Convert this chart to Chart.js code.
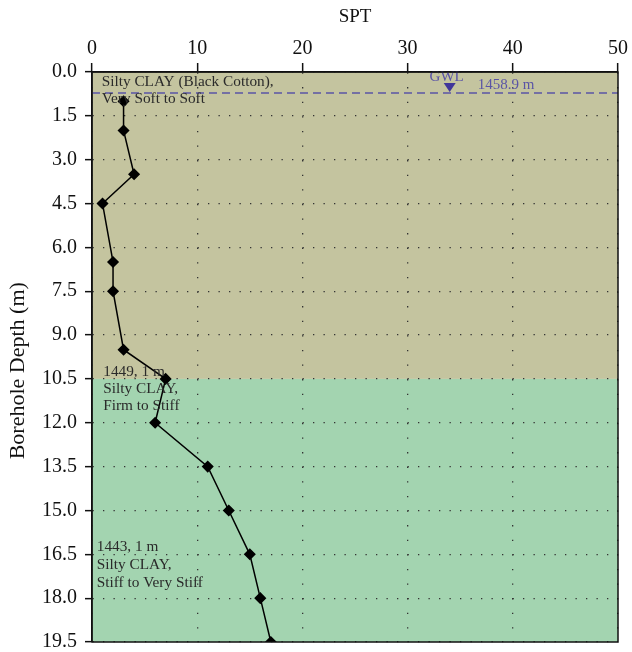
<!DOCTYPE html>
<html>
<head>
<meta charset="utf-8">
<script src="https://cdn.jsdelivr.net/npm/chart.js@4.4.1/dist/chart.umd.min.js"></script>
<style>
  html, body { margin: 0; padding: 0; background: #fff; }
  #wrap { width: 632px; height: 652px; }
</style>
</head>
<body>
<div id="wrap"><canvas id="sptChart" width="632" height="652"></canvas></div>
<script>
const spt = [3, 3, 4, 1, 2, 2, 3, 7, 6, 11, 13, 15, 16, 17];
const depth = [1.0, 2.0, 3.5, 4.5, 6.5, 7.5, 9.5, 10.5, 12.0, 13.5, 15.0, 16.5, 18.0, 19.5];

// soil layers (depth range in m)
const layerTop = [0, 10.5];
const layerBottom = [10.5, 19.5];
const layerColor = ['#c4c49f', '#a3d4b0'];

// layer labels, anchored at (SPT, depth) of the first line
const labelX = [0.92, 1.07, 0.45];
const labelY = [0.33, 10.25, 16.24];
const labelLines = [
    ['Silty CLAY (Black Cotton),', 'Very Soft to Soft'],
    ['1449, 1 m', 'Silty CLAY,', 'Firm to Stiff'],
    ['1443, 1 m', 'Silty CLAY,', 'Stiff to Very Stiff']
];
const labelGap = [17.6, 17, 18];

const gwlDepth = 0.72;
const gwlSpt = 34;
const gwlText = '1458.9 m';

const serif = "'Liberation Serif', 'DejaVu Serif', serif";

const soilPlugin = {
    id: 'soil',
    beforeDraw(chart) {
        const ctx = chart.ctx;
        const a = chart.chartArea;
        const y = chart.scales.y;
        ctx.save();
        for (let i = 0; i < layerTop.length; i++) {
            const t = y.getPixelForValue(layerTop[i]);
            const b = y.getPixelForValue(layerBottom[i]);
            ctx.fillStyle = layerColor[i];
            ctx.fillRect(a.left, t, a.right - a.left, b - t);
        }
        ctx.restore();
    },
    afterDatasetsDraw(chart) {
        const ctx = chart.ctx;
        const a = chart.chartArea;
        const x = chart.scales.x;
        const y = chart.scales.y;
        ctx.save();

        // GWL dashed line
        const gy = y.getPixelForValue(gwlDepth);
        ctx.strokeStyle = '#5a54a6';
        ctx.lineWidth = 1.5;
        ctx.setLineDash([8, 5]);
        ctx.beginPath();
        ctx.moveTo(a.left, gy);
        ctx.lineTo(a.right, gy);
        ctx.stroke();
        ctx.setLineDash([]);

        // GWL marker
        const gx = x.getPixelForValue(gwlSpt);
        ctx.fillStyle = '#40369a';
        ctx.beginPath();
        ctx.moveTo(gx - 6, gy - 10);
        ctx.lineTo(gx + 6, gy - 10);
        ctx.lineTo(gx, gy - 1);
        ctx.closePath();
        ctx.fill();

        ctx.fillStyle = '#5a54a6';
        ctx.font = '15px ' + serif;
        ctx.textBaseline = 'middle';
        ctx.textAlign = 'center';
        ctx.fillText('GWL', gx - 3, gy - 16);
        ctx.textAlign = 'left';
        ctx.fillText(gwlText, gx + 28, gy - 8);

        // layer labels
        ctx.fillStyle = '#2a2a2a';
        ctx.font = '15.3px ' + serif;
        ctx.textAlign = 'left';
        ctx.textBaseline = 'middle';
        for (let i = 0; i < labelLines.length; i++) {
            const px = x.getPixelForValue(labelX[i]);
            const py = y.getPixelForValue(labelY[i]);
            labelLines[i].forEach((line, k) => {
                ctx.fillText(line, px, py + k * labelGap[i]);
            });
        }

        // frame
        ctx.strokeStyle = '#111';
        ctx.lineWidth = 1.5;
        ctx.strokeRect(a.left, a.top, a.right - a.left, a.bottom - a.top);
        ctx.restore();
    }
};

const points = spt.map((v, i) => ({ x: v, y: depth[i] }));

new Chart(document.getElementById('sptChart'), {
    type: 'scatter',
    data: {
        datasets: [{
            data: points,
            showLine: true,
            borderColor: '#000',
            borderWidth: 1.5,
            backgroundColor: '#000',
            pointStyle: 'rectRot',
            pointRadius: 5,
            pointHoverRadius: 5
        }]
    },
    options: {
        responsive: false,
        animation: false,
        events: [],
        layout: { padding: { top: 0, right: 14, bottom: 10, left: 0 } },
        plugins: {
            legend: { display: false },
            tooltip: { enabled: false }
        },
        scales: {
            x: {
                type: 'linear',
                position: 'top',
                min: 0,
                max: 50,
                afterFit(scale) { scale.height = 72; },
                ticks: {
                    stepSize: 10,
                    color: '#111',
                    padding: 2,
                    font: { family: serif, size: 20 }
                },
                grid: {
                    color: '#333',
                    lineWidth: 1.3,
                    tickLength: 9,
                    tickColor: '#111',
                    tickBorderDash: [],
                    tickWidth: 1.5
                },
                border: { display: true, color: '#111', width: 1.5, dash: [1.3, 13.3] },
                title: {
                    display: true,
                    text: 'SPT',
                    color: '#111',
                    font: { family: serif, size: 19 },
                    padding: { top: 6, bottom: 0 }
                }
            },
            y: {
                type: 'linear',
                reverse: true,
                min: 0,
                max: 19.5,
                afterFit(scale) {
                    scale.width = 92;
                    scale.paddingTop = 0;
                    scale.paddingBottom = 0;
                },
                ticks: {
                    stepSize: 1.5,
                    color: '#111',
                    padding: 8,
                    font: { family: serif, size: 20 },
                    callback: v => v.toFixed(1)
                },
                grid: {
                    color: '#333',
                    lineWidth: 1.3,
                    tickLength: 7,
                    tickColor: '#111',
                    tickBorderDash: [],
                    tickWidth: 1.5
                },
                border: { display: true, color: '#111', width: 1.5, dash: [1.3, 9.2] },
                title: {
                    display: true,
                    text: 'Borehole Depth (m)     ',
                    color: '#111',
                    font: { family: serif, size: 22 },
                    padding: { top: 5, bottom: 0 }
                }
            }
        }
    },
    plugins: [soilPlugin]
});
</script>
</body>
</html>
